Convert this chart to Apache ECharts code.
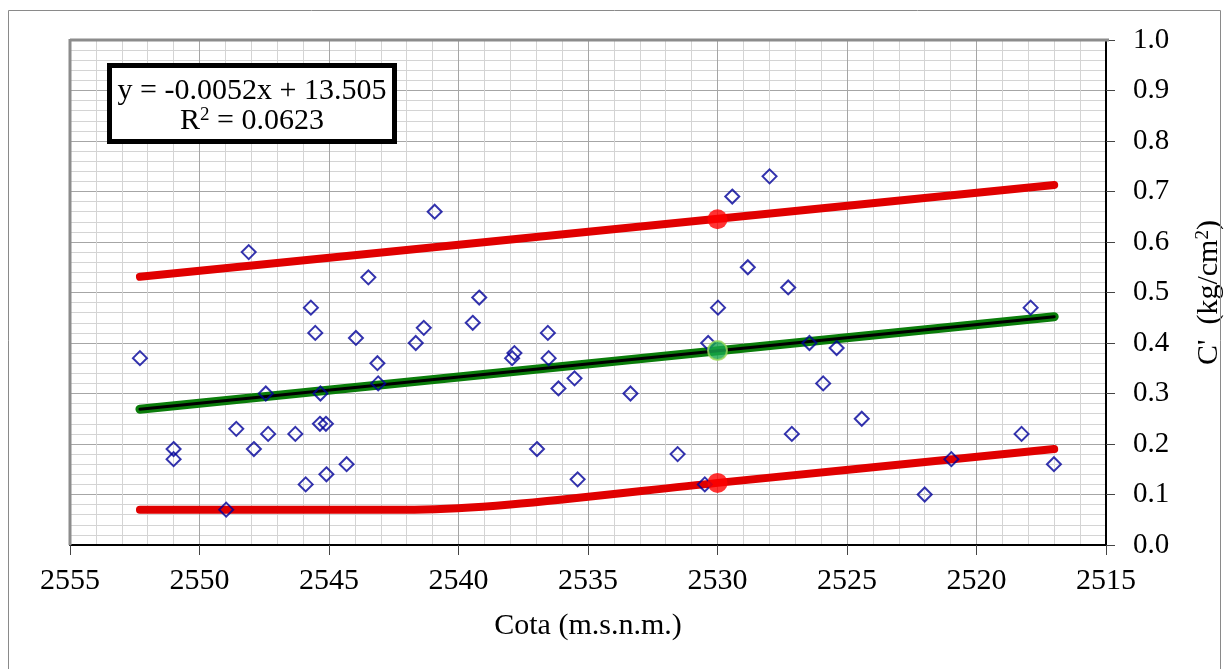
<!DOCTYPE html>
<html>
<head>
<meta charset="utf-8">
<script src="https://cdn.jsdelivr.net/npm/echarts@6/dist/echarts.min.js"></script>
<style>
html,body{margin:0;padding:0;background:#fff;}
#chart{width:1232px;height:669px;}
</style>
</head>
<body>
<div id="chart"></div>
<script>
// Scatter data: Cota (m.s.n.m.) vs C' (kg/cm2)
const cota = [2552.3, 2551.0, 2551.0, 2548.97, 2548.58, 2548.1, 2547.9, 2547.44, 2547.35, 2546.3,
  2545.9, 2545.7, 2545.53, 2545.35, 2545.33, 2545.12, 2545.1, 2544.32, 2543.96, 2543.48,
  2543.13, 2543.1, 2541.65, 2541.34, 2540.92, 2539.45, 2539.2, 2537.93, 2537.84, 2536.97,
  2536.55, 2536.52, 2536.14, 2535.52, 2535.4, 2533.36, 2531.54, 2530.49, 2530.36, 2529.98,
  2529.43, 2528.83, 2527.99, 2527.27, 2527.13, 2526.45, 2525.92, 2525.4, 2524.43, 2522.0,
  2520.97, 2518.26, 2517.91, 2517.01];
const cValues = [0.37, 0.19, 0.17, 0.07, 0.23, 0.58, 0.19, 0.30, 0.22, 0.22,
  0.12, 0.47, 0.42, 0.24, 0.30, 0.24, 0.14, 0.16, 0.41, 0.53,
  0.36, 0.32, 0.40, 0.43, 0.66, 0.44, 0.49, 0.37, 0.38, 0.19,
  0.42, 0.37, 0.31, 0.33, 0.13, 0.30, 0.18, 0.12, 0.40, 0.47,
  0.69, 0.55, 0.73, 0.51, 0.22, 0.40, 0.32, 0.39, 0.25, 0.10,
  0.17, 0.22, 0.47, 0.16];

// Envelope / trend lines
const upperX = [2552.3, 2517.0];
const upperY = [0.531, 0.713];
const middleX = [2552.3, 2517.0];
const middleY = [0.269, 0.452];
const lowerX = [2552.3, 2541.7, 2538.0, 2530.0, 2517.0];
const lowerY = [0.070, 0.070, 0.080, 0.123, 0.190];

// Highlighted points at Cota 2530
const markX = [2530];
const markUpper = [0.645];
const markMiddle = [0.385];
const markLower = [0.123];

// Axis ticks
const xTicks = {min: 2515, max: 2555, interval: 5};
const yTicks = {min: 0, max: 1, interval: 0.1};

const equationText = 'y = -0.0052x + 13.505';
const r2Text = 'R{s|2} = 0.0623';

const zip = (xs, ys) => xs.map((x, i) => [x, ys[i]]);
const FONT = 'Liberation Serif';

const chart = echarts.init(document.getElementById('chart'), null, {renderer: 'canvas'});

const option = {
  animation: false,
  backgroundColor: '#ffffff',
  grid: {left: 70, right: 123, top: 40, bottom: 124, show: false, containLabel: false},
  xAxis: {
    type: 'value',
    inverse: true,
    min: xTicks.min, max: xTicks.max, interval: xTicks.interval,
    name: 'Cota (m.s.n.m.)',
    nameLocation: 'middle',
    nameGap: 66,
    nameTextStyle: {fontFamily: FONT, fontSize: 30, color: '#000'},
    axisLine: {show: true, onZero: false, lineStyle: {color: '#000', width: 2}},
    axisTick: {show: true, length: 10, lineStyle: {color: '#444', width: 1}},
    axisLabel: {fontFamily: FONT, fontSize: 30, color: '#000', margin: 21,
      formatter: v => String(v)},
    splitLine: {show: true, lineStyle: {color: '#a6a6a6', width: 1}},
    minorTick: {show: false, splitNumber: 5},
    minorSplitLine: {show: true, lineStyle: {color: '#d4d4d4', width: 1}}
  },
  yAxis: {
    type: 'value',
    position: 'right',
    min: yTicks.min, max: yTicks.max, interval: yTicks.interval,
    name: "C'  (kg/cm{s|2})",
    nameLocation: 'middle',
    nameRotate: 90,
    nameGap: 88,
    nameTextStyle: {fontFamily: FONT, fontSize: 30, color: '#000',
      rich: {s: {fontFamily: FONT, fontSize: 19, color: '#000', verticalAlign: 'top', padding: [0, 0, 10, 0]}}},
    axisLine: {show: true, lineStyle: {color: '#000', width: 2}},
    axisTick: {show: true, length: 9, lineStyle: {color: '#444', width: 1}},
    axisLabel: {fontFamily: FONT, fontSize: 29, color: '#000', margin: 27,
      formatter: v => v.toFixed(1)},
    splitLine: {show: true, lineStyle: {color: '#a6a6a6', width: 1}},
    minorTick: {show: false, splitNumber: 5},
    minorSplitLine: {show: true, lineStyle: {color: '#d4d4d4', width: 1}}
  },
  graphic: [
    {type: 'rect', silent: true, z: 100,
      shape: {x: 8.5, y: 10.5, width: 1212, height: 700},
      style: {fill: 'none', stroke: '#8a8a8a', lineWidth: 1}},
    {type: 'line', silent: true, z: 100,
      shape: {x1: 70, y1: 40, x2: 1109, y2: 40},
      style: {stroke: '#8c8c8c', lineWidth: 3}},
    {type: 'line', silent: true, z: 100,
      shape: {x1: 70, y1: 39, x2: 70, y2: 545},
      style: {stroke: '#8c8c8c', lineWidth: 3}},
    {type: 'rect', silent: true, z: 100,
      shape: {x: 109.5, y: 65.5, width: 285, height: 76},
      style: {fill: '#ffffff', stroke: '#000', lineWidth: 5}},
    {type: 'text', silent: true, z: 101,
      x: 252, y: 91,
      style: {text: equationText, fill: '#000', font: '30px "Liberation Serif"',
        textAlign: 'center', textVerticalAlign: 'middle'}},
    {type: 'text', silent: true, z: 101,
      x: 252, y: 121,
      style: {text: r2Text, fill: '#000', font: '30px "Liberation Serif"',
        textAlign: 'center', textVerticalAlign: 'middle',
        rich: {s: {font: '19px "Liberation Serif"', fill: '#000', verticalAlign: 'top', padding: [0, 0, 10, 0]}}}}
  ],
  series: [
    {type: 'line', name: 'upper', data: zip(upperX, upperY), symbol: 'none', z: 2,
      lineStyle: {color: '#e00000', width: 8, cap: 'round'}},
    {type: 'line', name: 'lower', data: zip(lowerX, lowerY), symbol: 'none', smooth: 0.3, z: 2,
      lineStyle: {color: '#e00000', width: 8, cap: 'round'}},
    {type: 'line', name: 'middleGreen', data: zip(middleX, middleY), symbol: 'none', z: 2,
      lineStyle: {color: '#0a7d0a', width: 9, cap: 'round'}},
    {type: 'line', name: 'middleBlack', data: zip(middleX, middleY), symbol: 'none', z: 2,
      lineStyle: {color: '#000000', width: 3, cap: 'round'}},
    {type: 'scatter', name: 'data', data: zip(cota, cValues), symbol: 'diamond', symbolSize: 14, z: 3,
      itemStyle: {color: 'rgba(0,0,0,0)', borderColor: '#00009a', borderWidth: 2}},
    {type: 'scatter', name: 'redMarks', data: zip(markX, markUpper).concat(zip(markX, markLower)),
      symbol: 'circle', symbolSize: 20, z: 4,
      itemStyle: {color: '#ff0000'}},
    {type: 'scatter', name: 'greenMark', data: zip(markX, markMiddle),
      symbol: 'circle', symbolSize: 19, z: 4,
      itemStyle: {color: '#16a84c', borderColor: '#9ad85a', borderWidth: 2}}
  ]
};
chart.setOption(option);
</script>
</body>
</html>
